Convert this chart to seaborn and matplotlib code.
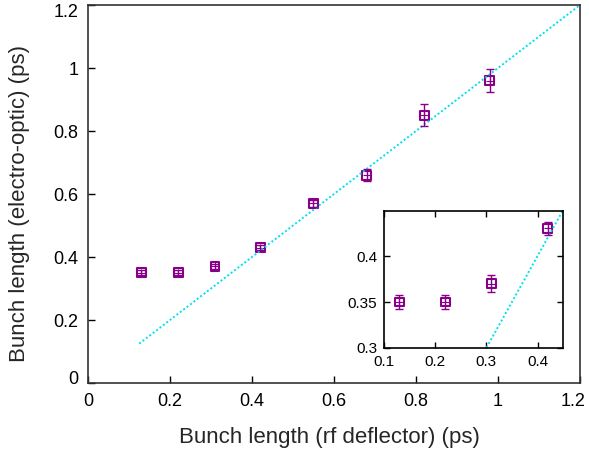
import matplotlib
matplotlib.use("Agg")
import matplotlib.pyplot as plt
import matplotlib.transforms as mtransforms
import seaborn as sns
import pandas as pd

# data
rf_length = [0.13, 0.22, 0.31, 0.42, 0.55, 0.68, 0.82, 0.98]
eo_length = [0.35, 0.35, 0.37, 0.43, 0.57, 0.66, 0.85, 0.96]
eo_error = [0.008, 0.008, 0.009, 0.007, 0.01, 0.02, 0.035, 0.037]
diag_x = [0.125, 1.2]

main_ticks = [0, 0.2, 0.4, 0.6, 0.8, 1.0, 1.2]
main_labels = ["0", "0.2", "0.4", "0.6", "0.8", "1", "1.2"]
inset_xticks = [0.1, 0.2, 0.3, 0.4]
inset_yticks = [0.3, 0.35, 0.4]

df = pd.DataFrame({"rf": rf_length, "eo": eo_length, "err": eo_error})
diag = pd.DataFrame({"x": diag_x, "y": diag_x})

sns.set_style("white")
plt.rcParams["font.family"] = ["Liberation Sans", "DejaVu Sans"]

point_color = "#880088"
line_color = "#00e0f0"

fig = plt.figure(figsize=(5.89, 4.55), dpi=100)
ax = fig.add_axes([0.1494, 0.1582, 0.8353, 0.8308])
ins = fig.add_axes([0.652, 0.2352, 0.304, 0.3011])


def draw(a):
    sns.lineplot(data=diag, x="x", y="y", ax=a, color=line_color,
                 linestyle=(0, (1, 1.2)), linewidth=1.4, legend=False)
    a.errorbar(df["rf"], df["eo"], yerr=df["err"], fmt="none",
               ecolor=point_color, elinewidth=1.0, capsize=3, capthick=1.0)
    sns.scatterplot(data=df, x="rf", y="eo", ax=a, marker="s", s=40,
                    facecolor="none", edgecolor=point_color, linewidth=1.5)
    sns.scatterplot(data=df, x="rf", y="eo", ax=a, marker="+", s=30,
                    color=point_color, linewidth=0.8)
    a.set_xlabel("")
    a.set_ylabel("")


draw(ax)
ax.set_xlim(0, 1.2)
ax.set_ylim(0, 1.2)
ax.set_xticks(main_ticks)
ax.set_xticklabels(main_labels)
ax.set_yticks(main_ticks)
ax.set_yticklabels(main_labels)
ax.tick_params(direction="in", length=5, width=1, labelsize=13, pad=7,
               top=False, right=False, bottom=True, left=True, colors="black")
ax.set_xlabel("Bunch length (rf deflector) (ps)", fontsize=16)
ax.set_ylabel("Bunch length (electro-optic) (ps)", fontsize=16)
ax.xaxis.set_label_coords(0.49, -0.117)
ax.yaxis.set_label_coords(-0.118, 0.474)
for sp in ax.spines.values():
    sp.set_color("#333333")
    sp.set_linewidth(1.2)

# nudge the end labels inward like the reference
fig.canvas.draw()
dpi_tr = fig.dpi_scale_trans
ax.get_xticklabels()[-1].set_transform(
    ax.get_xticklabels()[-1].get_transform()
    + mtransforms.ScaledTranslation(-0.07, 0, dpi_tr))
ax.get_yticklabels()[0].set_transform(
    ax.get_yticklabels()[0].get_transform()
    + mtransforms.ScaledTranslation(0, 0.06, dpi_tr))
ax.get_yticklabels()[-1].set_transform(
    ax.get_yticklabels()[-1].get_transform()
    + mtransforms.ScaledTranslation(0, -0.05, dpi_tr))

draw(ins)
ins.set_xlim(0.1, 0.45)
ins.set_ylim(0.3, 0.449)
ins.set_xticks(inset_xticks)
ins.set_xticklabels(["0.1", "0.2", "0.3", "0.4"])
ins.set_yticks(inset_yticks)
ins.set_yticklabels(["0.3", "0.35", "0.4"])
ins.tick_params(direction="in", length=4, width=1, labelsize=11, pad=5,
                top=True, right=True, bottom=True, left=True, colors="black")
for sp in ins.spines.values():
    sp.set_color("black")
    sp.set_linewidth(1.2)

fig.savefig("out.png", dpi=100)
